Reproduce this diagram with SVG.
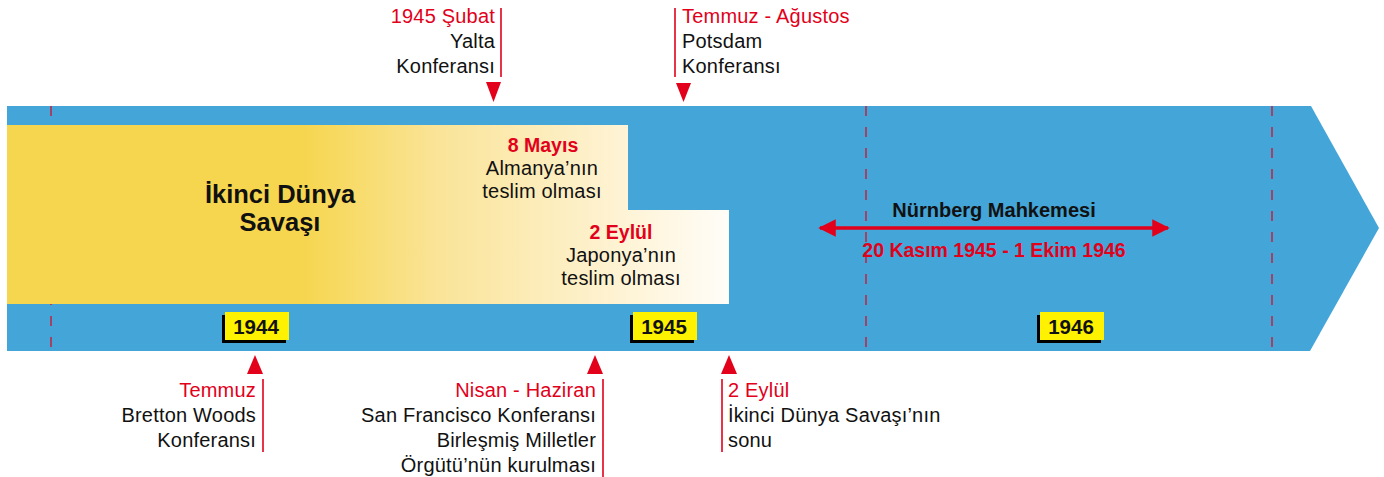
<svg xmlns="http://www.w3.org/2000/svg" width="1384" height="477" viewBox="0 0 1384 477">
<defs>
<linearGradient id="war" gradientUnits="userSpaceOnUse" x1="7" y1="0" x2="729" y2="0">
<stop offset="0" stop-color="#F6D64F"/>
<stop offset="0.41" stop-color="#F6D64F"/>
<stop offset="0.6" stop-color="#FAE499"/>
<stop offset="0.85" stop-color="#FEF3D4"/>
<stop offset="1" stop-color="#FFFDF8"/>
</linearGradient>
<marker id="ah" viewBox="0 0 10 10" refX="9" refY="5" markerWidth="6" markerHeight="5" orient="auto-start-reverse" markerUnits="strokeWidth">
<path d="M0,0 L10,5 L0,10 z" fill="#E2001A"/>
</marker>
<style>
text{font-family:"Liberation Sans",Arial,"DejaVu Sans",sans-serif;}
.t{font-size:20px;letter-spacing:0.2px;fill:#111;}
.r{font-size:20px;letter-spacing:0.2px;fill:#E2001A;}
.rb{font-size:19.5px;fill:#E2001A;font-weight:bold;}
.b{font-size:20px;fill:#111;font-weight:bold;}
.big{font-size:25.5px;fill:#111;font-weight:bold;}
.yr{font-size:20.5px;fill:#111;font-weight:bold;}
.e{text-anchor:end;}
.m{text-anchor:middle;}
.dash{stroke:#E2001A;stroke-width:1.4;stroke-dasharray:10 11;fill:none;opacity:0.85;}
.ln{stroke:#E2001A;stroke-width:1.6;fill:none;}
.tri{fill:#E2001A;}
</style>
</defs>

<g id="band">
<polygon points="7,106 1311,106 1379,228 1310,351 7,351" fill="#44A5D8"/>
<line class="dash" x1="51" y1="106" x2="51" y2="351"/>
<line class="dash" x1="866" y1="106" x2="866" y2="351"/>
<line class="dash" x1="1272" y1="106" x2="1272" y2="351"/>
</g>

<g id="war-block">
<polygon points="7,125 628,125 628,210 729,210 729,304 7,304" fill="url(#war)"/>
<text class="big m" x="280" y="202.5">İkinci Dünya</text>
<text class="big m" x="280" y="231">Savaşı</text>
</g>

<g id="may8">
<text class="rb m" x="543" y="152">8 Mayıs</text>
<text class="t m" x="542" y="175">Almanya’nın</text>
<text class="t m" x="542" y="198">teslim olması</text>
</g>

<g id="sep2-japan">
<text class="rb m" x="621" y="239">2 Eylül</text>
<text class="t m" x="621" y="262">Japonya’nın</text>
<text class="t m" x="621" y="285">teslim olması</text>
</g>

<g id="y1944">
<rect x="222" y="315" width="64" height="28" fill="#000"/>
<rect x="225" y="312" width="64" height="28" fill="#FFF200"/>
<text class="yr m" x="256" y="334">1944</text>
</g>
<g id="y1945">
<rect x="630" y="315" width="64" height="28" fill="#000"/>
<rect x="633" y="312" width="64" height="28" fill="#FFF200"/>
<text class="yr m" x="664" y="334">1945</text>
</g>
<g id="y1946">
<rect x="1037" y="315" width="64" height="28" fill="#000"/>
<rect x="1040" y="312" width="64" height="28" fill="#FFF200"/>
<text class="yr m" x="1071" y="334">1946</text>
</g>

<g id="nurnberg">
<text class="b m" x="994" y="217">Nürnberg Mahkemesi</text>
<text class="rb m" x="994" y="257">20 Kasım 1945 - 1 Ekim 1946</text>
</g>

<g id="yalta">
<text class="r e" x="495" y="23">1945 Şubat</text>
<text class="t e" x="495" y="48">Yalta</text>
<text class="t e" x="495" y="73">Konferansı</text>
</g>
<g id="potsdam">
<text class="r" x="682" y="23">Temmuz - Ağustos</text>
<text class="t" x="682" y="48">Potsdam</text>
<text class="t" x="682" y="73">Konferansı</text>
</g>
<g id="bretton">
<text class="r e" x="256" y="397">Temmuz</text>
<text class="t e" x="256" y="422">Bretton Woods</text>
<text class="t e" x="256" y="447">Konferansı</text>
</g>
<g id="sanfrancisco">
<text class="r e" x="596" y="397">Nisan - Haziran</text>
<text class="t e" x="596" y="422">San Francisco Konferansı</text>
<text class="t e" x="596" y="447">Birleşmiş Milletler</text>
<text class="t e" x="596" y="472">Örgütü’nün kurulması</text>
</g>
<g id="end">
<text class="r" x="728" y="397">2 Eylül</text>
<text class="t" x="728" y="422">İkinci Dünya Savaşı’nın</text>
<text class="t" x="728" y="447">sonu</text>
</g>

<g id="connectors">
<line class="ln" x1="501" y1="8" x2="501" y2="77"/>
<polygon class="tri" points="486,82 501,82 493.5,102"/>
<line class="ln" x1="675" y1="8" x2="675" y2="77"/>
<polygon class="tri" points="676,83 691,83 683.5,102"/>
<polygon class="tri" points="247,374 263,374 255,355"/>
<line class="ln" x1="263" y1="379" x2="263" y2="452"/>
<polygon class="tri" points="587,374 603,374 595,355"/>
<line class="ln" x1="603" y1="379" x2="603" y2="477"/>
<polygon class="tri" points="721,374 737,374 729,355"/>
<line class="ln" x1="722" y1="379" x2="722" y2="452"/>
<line x1="820" y1="228" x2="1168" y2="228" stroke="#E2001A" stroke-width="3.5" marker-start="url(#ah)" marker-end="url(#ah)"/>
</g>
</svg>
